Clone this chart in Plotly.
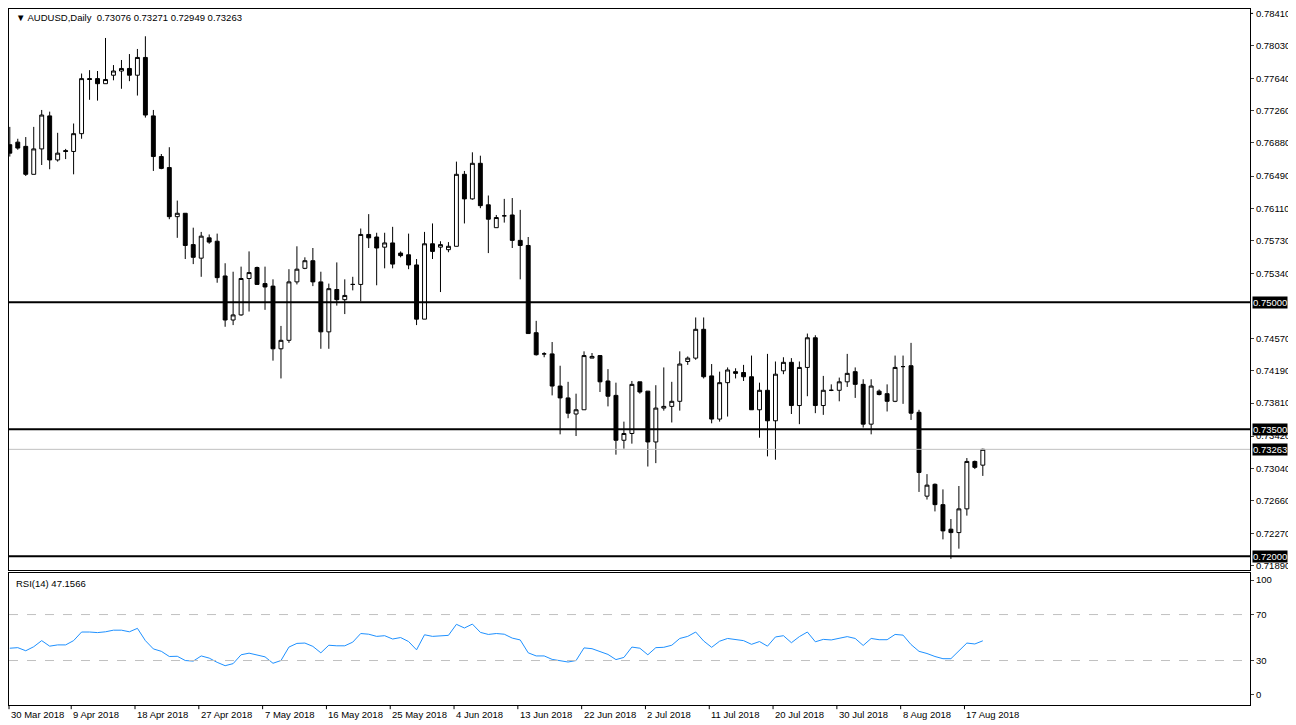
import plotly.graph_objects as go

opens = [0.7686,0.7689,0.7684,0.7651,0.7681,0.7720,0.7668,0.7679,0.7678,0.7699,0.7764,0.7764,0.7758,0.7768,0.7773,0.7776,0.7768,0.7789,0.7720,0.7672,
0.7659,0.7601,0.7605,0.7568,0.7552,0.7576,0.7572,0.7531,0.7479,0.7485,0.7528,0.7541,0.7522,0.7519,0.7445,0.7455,0.7524,0.7540,0.7549,0.7524,
0.7465,0.7515,0.7503,0.7521,0.7521,0.7580,0.7577,0.7565,0.7570,0.7558,0.7556,0.7544,0.7480,0.7569,0.7565,0.7562,0.7566,0.7651,0.7622,0.7664,
0.7615,0.7588,0.7602,0.7603,0.7573,0.7567,0.7464,0.7439,0.7439,0.7401,0.7387,0.7368,0.7373,0.7434,0.7437,0.7407,0.7390,0.7337,0.7345,0.7406,
0.7395,0.7335,0.7375,0.7377,0.7383,0.7430,0.7434,0.7468,0.7413,0.7362,0.7405,0.7418,0.7417,0.7412,0.7373,0.7396,0.7360,0.7419,0.7429,0.7378,
0.7423,0.7458,0.7378,0.7396,0.7396,0.7406,0.7418,0.7403,0.7356,0.7395,0.7392,0.7383,0.7424,0.7425,0.7370,0.7271,0.7285,0.7261,0.7232,0.7228,
0.7256,0.7312,0.73076]
highs = [0.7707,0.7693,0.7695,0.7707,0.7727,0.7725,0.7700,0.7681,0.7711,0.7770,0.7774,0.7773,0.7812,0.7780,0.7786,0.7793,0.7799,0.7814,0.7727,0.7675,
0.7683,0.7620,0.7605,0.7588,0.7583,0.7580,0.7581,0.7546,0.7536,0.7542,0.7560,0.7542,0.7542,0.7527,0.7472,0.7539,0.7566,0.7553,0.7564,0.7536,
0.7522,0.7547,0.7527,0.7530,0.7587,0.7604,0.7582,0.7582,0.7589,0.7560,0.7581,0.7551,0.7583,0.7593,0.7572,0.7571,0.7666,0.7655,0.7677,0.7673,
0.7626,0.7603,0.7622,0.7623,0.7609,0.7577,0.7478,0.7441,0.7453,0.7425,0.7406,0.7392,0.7442,0.7440,0.7437,0.7421,0.7405,0.7359,0.7407,0.7406,
0.7395,0.7402,0.7423,0.7406,0.7442,0.7436,0.7482,0.7482,0.7427,0.7418,0.7423,0.7422,0.7426,0.7437,0.7405,0.7439,0.7430,0.7435,0.7434,0.7430,
0.7463,0.7461,0.7413,0.7403,0.7411,0.7439,0.7423,0.7409,0.7409,0.7397,0.7403,0.7437,0.7437,0.7452,0.7373,0.7297,0.7286,0.7279,0.7244,0.7283,
0.7316,0.7313,0.73271]
lows = [0.7672,0.7680,0.7649,0.7651,0.7662,0.7657,0.7666,0.7669,0.7651,0.7693,0.7739,0.7738,0.7758,0.7762,0.7752,0.7761,0.7744,0.7718,0.7655,0.7657,
0.7598,0.7576,0.7551,0.7545,0.7530,0.7569,0.7523,0.7471,0.7473,0.7484,0.7489,0.7521,0.7491,0.7431,0.7410,0.7452,0.7521,0.7539,0.7519,0.7445,
0.7445,0.7496,0.7486,0.7514,0.7501,0.7564,0.7520,0.7540,0.7540,0.7553,0.7539,0.7473,0.7480,0.7551,0.7512,0.7559,0.7566,0.7593,0.7621,0.7611,
0.7558,0.7588,0.7594,0.7564,0.7527,0.7463,0.7437,0.7435,0.7390,0.7344,0.7363,0.7342,0.7373,0.7434,0.7394,0.7377,0.7320,0.7327,0.7333,0.7392,
0.7306,0.7310,0.7372,0.7358,0.7372,0.7426,0.7432,0.7410,0.7357,0.7359,0.7365,0.7410,0.7407,0.7373,0.7340,0.7318,0.7314,0.7415,0.7368,0.7356,
0.7389,0.7369,0.7367,0.7395,0.7383,0.7400,0.7387,0.7352,0.7344,0.7390,0.7371,0.7382,0.7380,0.7361,0.7276,0.7267,0.7253,0.7220,0.7197,0.7209,
0.7248,0.7303,0.72949]
closes = [0.7676,0.7682,0.7651,0.7681,0.7721,0.7668,0.7676,0.7678,0.7699,0.7764,0.7763,0.7758,0.7763,0.7773,0.7776,0.7768,0.7789,0.7721,0.7672,0.7658,
0.7601,0.7605,0.7567,0.7553,0.7578,0.7571,0.7529,0.7479,0.7485,0.7528,0.7535,0.7521,0.7518,0.7445,0.7455,0.7524,0.7539,0.7549,0.7524,0.7465,
0.7516,0.7503,0.7508,0.7521,0.7580,0.7576,0.7564,0.7570,0.7545,0.7555,0.7544,0.7480,0.7569,0.7560,0.7568,0.7566,0.7651,0.7622,0.7664,0.7614,
0.7598,0.7600,0.7602,0.7573,0.7567,0.7463,0.7438,0.7439,0.7401,0.7387,0.7369,0.7373,0.7437,0.7436,0.7406,0.7389,0.7337,0.7345,0.7403,0.7394,
0.7335,0.7375,0.7377,0.7383,0.7427,0.7434,0.7468,0.7412,0.7362,0.7405,0.7420,0.7416,0.7412,0.7373,0.7396,0.7360,0.7415,0.7429,0.7378,0.7423,
0.7458,0.7378,0.7396,0.7396,0.7406,0.7416,0.7403,0.7356,0.7401,0.7391,0.7383,0.7423,0.7424,0.7369,0.7299,0.7284,0.7261,0.7230,0.7228,0.7256,
0.7312,0.7305,0.73263]
rsi = [40.7,41.2,38.5,42,47.3,42.5,43.6,43.6,47.3,54.8,54.8,54.3,55,56.4,56.4,55,58,47.3,40.1,38,
33.5,33.7,30,29.5,34,32.1,28.4,25.5,27.3,35,36.4,34.8,33.2,27.6,30,41.7,44.9,45.2,42.3,36.7,
43.3,42.8,42.8,46,53.5,52.9,51,51.6,48.7,50,46.5,39.3,52.4,51,51.6,51.9,61.5,58.3,61.7,54.5,
52.7,53.5,52.9,49.5,47.9,36.7,34,34,31,30,28.7,30,41,40.3,37.5,35.3,30.8,32.7,41.7,40.7,
35,41.2,41.5,43.3,49.2,51,54.8,47,41.5,46.8,49.2,48.4,47.3,44.1,46.5,42.5,50.5,51.6,45.5,50.8,
54.8,46.3,48.4,47.9,49.5,50.8,49.2,43.1,49.2,48.1,48.1,52.7,52.1,43.9,38,36.1,33.5,31.6,31.6,38,
45.2,44.4,47.1566]
date_labels = ["30 Mar 2018","9 Apr 2018","18 Apr 2018","27 Apr 2018","7 May 2018","16 May 2018","25 May 2018",
               "4 Jun 2018","13 Jun 2018","22 Jun 2018","2 Jul 2018","11 Jul 2018","20 Jul 2018","30 Jul 2018",
               "8 Aug 2018","17 Aug 2018"]
date_idx = [0,8,16,24,32,40,48,56,64,72,80,88,96,104,112,120]
top_tick = 0.78410
price_ticks = [0.78030,0.77640,0.77260,0.76880,0.76490,0.76110,0.75730,0.75340,0.74570,
               0.74190,0.73810,0.73420,0.73040,0.72660,0.72270,0.71890]
levels = [0.75000,0.73500,0.72000]
last_price = 0.73263
rsi_ticks = [100,70,30,0]

idx = list(range(len(closes)))
FONT = "Liberation Sans"
FS = 9.5
X0, X1 = -0.1, 155.5

fig = go.Figure()
fig.add_trace(go.Candlestick(
    x=idx, open=opens, high=highs, low=lows, close=closes,
    increasing=dict(line=dict(color="black", width=1), fillcolor="white"),
    decreasing=dict(line=dict(color="black", width=1), fillcolor="black"),
    whiskerwidth=0, xaxis="x", yaxis="y", hoverinfo="skip"))
fig.add_trace(go.Scatter(x=idx, y=rsi, mode="lines", line=dict(color="#1e90ff", width=1),
                         xaxis="x2", yaxis="y2", hoverinfo="skip"))

for lv in levels:
    fig.add_shape(type="line", xref="paper", x0=0, x1=1, yref="y", y0=lv, y1=lv,
                  line=dict(color="black", width=2))
fig.add_shape(type="line", xref="paper", x0=0, x1=1, yref="y", y0=last_price, y1=last_price,
              line=dict(color="#c0c0c0", width=1))
for lv in [70, 30]:
    fig.add_shape(type="line", xref="paper", x0=0, x1=1, yref="y2", y0=lv, y1=lv,
                  line=dict(color="#c0c0c0", width=1, dash="dash"))

ann = []
for lv in levels + [last_price]:
    ann.append(dict(xref="paper", x=1.002, yref="y", y=lv, text=f"{lv:.5f}", showarrow=False,
                    xanchor="left", yanchor="middle", bgcolor="black",
                    font=dict(color="white", size=FS, family=FONT), borderpad=0))
ann.append(dict(xref="paper", x=1.0, xshift=4, yref="y", y=top_tick, text=f"{top_tick:.5f}", showarrow=False,
                xanchor="left", yanchor="middle", font=dict(color="black", size=FS, family=FONT)))
fig.add_shape(type="line", xref="paper", x0=1.0, x1=1.0025, yref="y", y0=top_tick, y1=top_tick,
              line=dict(color="black", width=1))
for d, t in zip(date_idx, date_labels):
    px = max(0.0, (d - 0.3 - X0) / (X1 - X0))
    ann.append(dict(xref="paper", x=px, yref="paper", y=0, yshift=-2, text=t, showarrow=False,
                    xanchor="left", yanchor="top", font=dict(size=FS, family=FONT, color="black")))
    fig.add_shape(type="line", xref="paper", x0=px, x1=px, yref="paper", y0=0, y1=-0.006,
                  line=dict(color="black", width=1))
ann.append(dict(xref="paper", x=0.004, yref="paper", y=0.998, text="▼ AUDUSD,Daily  0.73076 0.73271 0.72949 0.73263",
                showarrow=False, xanchor="left", yanchor="top", font=dict(size=FS, family=FONT, color="black")))
ann.append(dict(xref="paper", x=0.004, yref="paper", y=0.186, text="RSI(14) 47.1566",
                showarrow=False, xanchor="left", yanchor="top", font=dict(size=FS, family=FONT, color="black")))

axis_common = dict(showgrid=False, zeroline=False, showline=True, linecolor="black", linewidth=1, mirror=True)
fig.update_layout(
    width=1288, height=717, margin=dict(l=1, r=46, t=1, b=20),
    paper_bgcolor="white", plot_bgcolor="white", showlegend=False,
    xaxis=dict(domain=[0, 1], range=[X0, X1], showticklabels=False, ticks="", anchor="y",
               rangeslider=dict(visible=False), **axis_common),
    xaxis2=dict(domain=[0, 1], range=[X0, X1], showticklabels=False, ticks="", anchor="y2",
                matches="x", **axis_common),
    yaxis=dict(domain=[0.1937, 1], range=[0.71836, 0.78462], side="right", tickvals=price_ticks,
               ticktext=[f"{v:.5f}" for v in price_ticks], ticks="outside", ticklen=3,
               tickfont=dict(size=FS, family=FONT, color="black"), anchor="x", **axis_common),
    yaxis2=dict(domain=[0, 0.1894], range=[-8.7, 106], side="right", tickvals=rsi_ticks,
                ticks="outside", ticklen=3, tickfont=dict(size=FS, family=FONT, color="black"),
                anchor="x2", **axis_common),
    annotations=ann,
)
fig.write_html("out.html")
